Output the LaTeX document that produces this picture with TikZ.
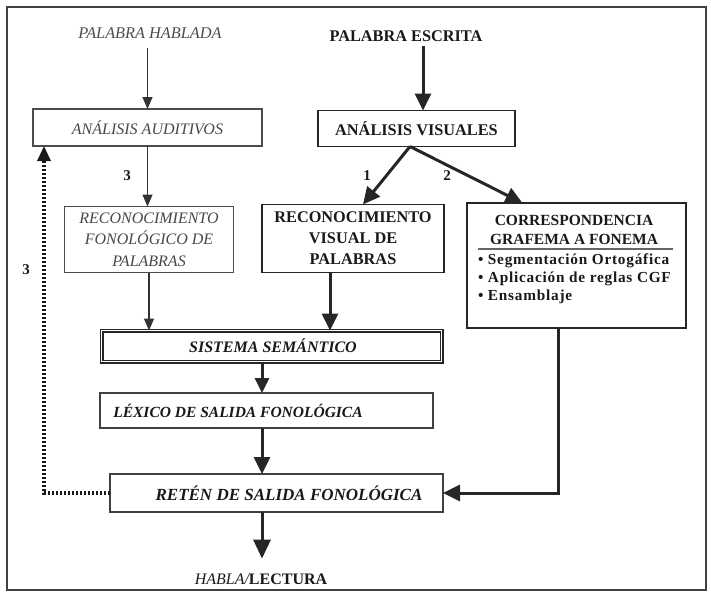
\documentclass[tikz,border=0pt]{standalone}
\usepackage{fontspec}
\setmainfont{Liberation Serif}
\usetikzlibrary{arrows.meta}

\begin{document}
\begin{tikzpicture}[x=1pt,y=-1pt,
  every node/.style={inner sep=0pt, outer sep=0pt},
  softbox/.style={draw=black!70, line width=1.3pt, align=center, text=black!72,
    font=\fontsize{16}{21.5}\selectfont\itshape},
  hardbox/.style={draw=black!85, line width=1.6pt, align=center, text=black!90,
    font=\fontsize{16.3}{21}\selectfont\bfseries},
  outbox/.style={draw=black!75, line width=1.3pt},
  ital/.style={font=\fontsize{16.3}{20}\selectfont\itshape, text=black!70},
  boldital/.style={font=\fontsize{16}{20}\selectfont\bfseries\itshape, text=black!90},
  heading/.style={font=\fontsize{16.3}{20}\selectfont\bfseries, text=black!90},
  bullet/.style={anchor=west, font=\fontsize{15.3}{18}\selectfont\bfseries\addfontfeatures{LetterSpace=5}, text=black!90},
  num/.style={font=\fontsize{15}{18}\selectfont\bfseries, text=black!90},
  thinarrow/.style={draw=black!80, line width=1.2pt, -{Triangle[length=12pt,width=10pt]}},
  heavyarrow/.style={draw=black!85, line width=3pt, -{Triangle[length=17pt,width=16pt]}},
  feedback/.style={draw=black!90, line width=3.2pt, dash pattern=on 2.2pt off 1.8pt,
    -{Triangle[length=15pt,width=13pt]}},
]
\useasboundingbox (0,0) rectangle (711,594);

% outer frame
\draw[line width=1.8pt, black!75] (7,7) rectangle (706,590);

% inputs
\node[ital] (ph) at (150,33) {PALABRA HABLADA};
\node[heading] (pe) at (406,36) {PALABRA ESCRITA};

% first-level analysis
\node[softbox, minimum width=229pt, minimum height=37pt] (aa) at (147.5,127.5) {ANÁLISIS AUDITIVOS};
\node[hardbox, minimum width=197pt, minimum height=36pt] (av) at (416.5,128.5) {ANÁLISIS VISUALES};

% recognition routes
\node[softbox, minimum width=169pt, minimum height=66pt] (rf) at (149,239.5)
  {RECONOCIMIENTO\\FONOLÓGICO DE\\PALABRAS};
\node[hardbox, minimum width=182pt, minimum height=68pt] (rv) at (353,238.5)
  {RECONOCIMIENTO\\VISUAL DE\\PALABRAS};

% grapheme-to-phoneme conversion
\node[draw=black!85, line width=1.6pt, minimum width=219pt, minimum height=125pt] (cgf) at (576.5,265.5) {};
\node[heading, align=center, font=\fontsize{15.5}{18.5}\selectfont\bfseries] (cgfhead) at (574,230)
  {CORRESPONDENCIA\\GRAFEMA A FONEMA};
\draw[black!60, line width=1.3pt] ([shift={(11,46)}]cgf.north west) -- ([shift={(-13,46)}]cgf.north east);
\node[bullet] (b1) at (478,261) {• Segmentación Ortogáfica};
\node[bullet] (b2) at (478,279) {• Aplicación de reglas CGF};
\node[bullet] (b3) at (478,297) {• Ensamblaje};

% semantic system and output stages
\node[draw=black!85, line width=1.1pt, double, double distance=1.8pt,
  minimum width=340pt, minimum height=31pt] (ss) at (271.5,346) {};
\node[boldital] (sst) at (273,346) {SISTEMA SEMÁNTICO};

\node[outbox, minimum width=333pt, minimum height=35pt] (ls) at (266.5,410.5) {};
\node[boldital, font=\fontsize{15.5}{20}\selectfont\bfseries\itshape] (lst) at (238,410.5) {LÉXICO DE SALIDA FONOLÓGICA};

\node[outbox, minimum width=333pt, minimum height=38pt] (rs) at (276.5,493) {};
\node[boldital, font=\fontsize{17}{20}\selectfont\bfseries\itshape] (rst) at (289,493) {RETÉN DE SALIDA FONOLÓGICA};

\node[text=black!90] (out) at (261,579)
  {{\fontsize{16}{20}\selectfont\itshape HABLA/}{\fontsize{16}{20}\selectfont\bfseries LECTURA}};

% route labels
\node[num] (n1) at (367,176) {1};
\node[num] (n2) at (447,176) {2};
\node[num] (n3) at (127,176) {3};
\node[num] (n3b) at (26,270) {3};

% connectors
\draw[thinarrow] ([yshift=-10pt]ph.south -| aa.north) -- (aa.north);
\draw[heavyarrow] ([shift={(6.5,5)}]av.north |- pe.south) -- ([xshift=6.5pt]av.north);
\draw[heavyarrow] ([xshift=-6.5pt]av.south) -- ([xshift=10pt]rv.north);
\draw[heavyarrow] ([xshift=-6.5pt]av.south) -- ([xshift=-54pt]cgf.north);
\draw[thinarrow] (aa.south) -- (aa.south |- rf.north);
\draw[thinarrow] (rf.south) -- (rf.south |- ss.north);
\draw[heavyarrow] ([xshift=-23pt]rv.south) -- ([xshift=-23pt]rv.south |- ss.north);
\draw[heavyarrow, -{Triangle[length=15pt,width=14pt]}] ([xshift=-9.5pt]ss.south) -- ([xshift=-9.5pt]ss.south |- ls.north);
\draw[heavyarrow] ([xshift=-4.5pt]ls.south) -- ([xshift=-4.5pt]ls.south |- rs.north);
\draw[heavyarrow, -{Triangle[length=19pt,width=17pt]}] ([xshift=-14.5pt]rs.south)
  -- ([shift={(-14.5,-15)}]rs.south |- out.north);
\draw[heavyarrow] ([xshift=-18.5pt]cgf.south) |- (rs.east);
\draw[feedback] (rs.west) -| ([xshift=-103.5pt]aa.south);
\end{tikzpicture}
\end{document}
